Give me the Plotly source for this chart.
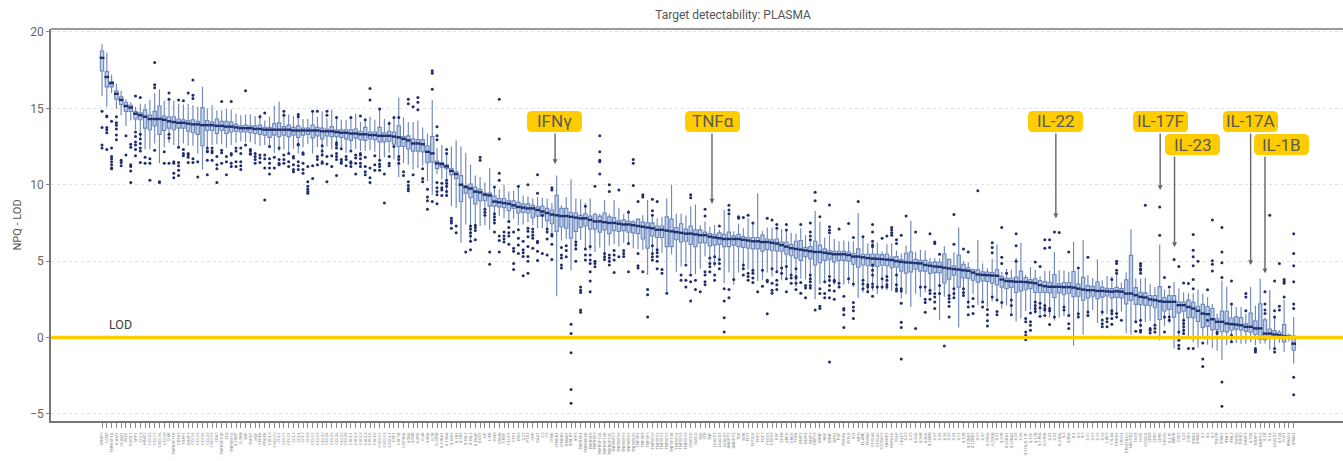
import plotly.graph_objects as go

targets = [
"MMP9","LCN2","TNFRSF1A","ICAM1","VCAM1","SELE","CHI3L1","SPP1","CCL5","MMP2",
"CCL22","CCL17","CXCL16","CCL18","IL6R","TNFRSF11B","CD163","TIMP1","MMP3","CCL14",
"CCL15","CCL16","CCL23","CXCL12","CD40","TNFRSF10B","LTA","TNFRSF14","IL18BP","IL1RN",
"MIF","TGFB1","HGF","VEGFA","PDGFB","CXCL9","CXCL10","CCL2","CCL19","CCL21",
"CCL3","CCL4","CCL7","CCL8","CCL11","CCL13","CCL20","CCL24","CCL25","CCL26",
"CCL27","CCL28","CXCL1","CXCL2","CXCL3","CXCL5","CXCL6","CXCL8","CXCL11","CXCL13",
"CX3CL1","CSF1","CSF1R","CSF2RA","IL2RA","IL2RB","IL2RG","IL4R","IL5RA","IL7R",
"IL10RB","IL13RA1","IL15RA","IL18R1","IL1R1","IL1R2","IL1RL1","IL1RL2","IL1RAP","IL6ST",
"LIF","LIFR","OSM","OSMR","CNTF","CLCF1","CTF1","EBI3","IL27","PTX3",
"CRP","SAA1","C3","C5","IFNG","IFNGR1","IFNGR2","IFNAR1","IFNLR1","IRF5",
"TNFRSF4","TNFRSF6B","TNFRSF8","TNFRSF9","TNFRSF12A","TNFRSF13B","TNFRSF13C","TNFRSF17","TNFRSF18","TNFRSF19",
"TNFRSF21","TNFRSF25","TNFSF4","TNFSF8","TNFSF9","TNFSF10","TNFSF11","TNFSF12","TNFSF13","TNFSF13B",
"TNFSF14","TNFSF15","TNFSF18","CD40LG","FASLG","FAS","LTB","TNF","LGALS1","LGALS3",
"LGALS9","ANGPT1","ANGPT2","TEK","KDR","FLT1","FLT3LG","FGF2","FGF7","FGF21",
"FGF23","EGF","EGFR","AREG","EREG","TGFA","BMP2","BMP4","BMP7","GDF15",
"GDNF","NGF","BDNF","NTF4","PGF","PDGFA","KITLG","KIT","MPO","ELANE",
"PRTN3","S100A8","S100A9","S100A12","HMGB1","HSPA1A","TSLP","CRLF2","IL33","IL25",
"IL36A","IL36B","IL36G","IL36RN","IL37","IL38","IL16","IL32","IL34","IL11",
"IL12B","IL12RB1","IL12RB2","IL19","IL20","IL20RA","IL20RB","IL21","IL21R","IL22RA1",
"IL22RA2","IL24","IL26","IL17A/IL17F","IL17C","IL17D","IL17RA","IL17RB","IL22","IL31",
"IL31RA","IL3","IL3RA","IL4","IL5","IL9","IL10","IL13","IL15","IL18",
"LAG3","CTLA4","PDCD1","CD274","PDCD1LG2","HAVCR2","TIGIT","ICOS","ICOSLG","CD28",
"CD80","CD86","CD276","IL17F","NPPB","CSF2","IL23","CSF3","IFNA1","IFNA2",
"IL2","IL6","IL7","TSLPR","IFNB1","IFNL1","IFNL2","TGFB2","TGFB3","MMP1",
"IL17A","MMP7","MMP12","IL1B","IL1A","LGALS7","IL12A","IL4I1","IFNA14","IFNW1",
]

medians = [
18.3,17.05,16.65,15.95,15.55,15.15,15.05,14.65,14.55,14.45,
14.3,14.3,14.3,14.25,14.15,14.1,14.05,14.05,14.0,13.95,
13.95,13.9,13.9,13.9,13.85,13.85,13.8,13.8,13.75,13.7,
13.7,13.7,13.65,13.65,13.6,13.6,13.6,13.6,13.6,13.6,
13.55,13.55,13.55,13.55,13.55,13.55,13.5,13.5,13.5,13.45,
13.4,13.4,13.35,13.35,13.3,13.3,13.25,13.25,13.2,13.2,
13.2,13.15,13.1,13.0,12.9,12.7,12.7,12.65,12.15,12.05,
11.4,11.35,11.2,10.9,10.7,10.0,9.85,9.75,9.55,9.5,
9.35,9.3,8.9,8.85,8.8,8.75,8.65,8.55,8.5,8.45,
8.45,8.35,8.25,8.15,8.05,8.0,7.95,7.95,7.9,7.85,
7.8,7.8,7.7,7.6,7.6,7.55,7.5,7.5,7.45,7.4,
7.4,7.35,7.3,7.25,7.2,7.15,7.05,7.05,7.0,6.95,
6.9,6.85,6.8,6.8,6.75,6.7,6.7,6.6,6.55,6.5,
6.45,6.45,6.45,6.45,6.4,6.35,6.3,6.3,6.25,6.25,
6.2,6.15,6.05,5.95,5.85,5.8,5.75,5.7,5.65,5.6,
5.6,5.55,5.5,5.45,5.45,5.45,5.4,5.3,5.3,5.25,
5.2,5.17,5.15,5.13,5.1,5.07,5.0,4.95,4.92,4.9,
4.87,4.85,4.75,4.7,4.65,4.63,4.57,4.52,4.48,4.45,
4.4,4.37,4.25,4.13,4.1,4.08,4.06,4.04,3.8,3.7,
3.68,3.65,3.65,3.63,3.6,3.55,3.43,3.36,3.32,3.32,
3.32,3.3,3.3,3.27,3.2,3.14,3.1,3.1,3.05,3.05,
3.02,3.0,3.03,3.0,2.88,2.88,2.77,2.66,2.62,2.5,
2.45,2.38,2.34,2.34,2.34,2.12,2.12,2.0,1.9,1.75,
1.57,1.53,1.2,1.03,1.03,.92,.88,.85,.8,.7,
.7,.6,.6,.26,.26,.2,.15,.1,.05,-.4,
]

box_above = [
.45,.35,.1,.2,.2,.25,.15,.15,.15,.45,
.25,.5,.85,.25,.3,.35,.25,.2,.2,.3,
.2,1.15,.3,.2,.45,.3,.35,.3,.2,.15,
.2,.15,.2,.25,.15,.15,.4,.45,.2,.3,
.2,.3,.15,.15,.35,.2,.2,.15,.3,.15,
.2,.2,.25,.3,.2,.45,.2,.2,.55,.2,
.3,.3,.75,.15,.3,.3,.25,.3,.4,1.1,
.15,.1,.1,.15,.15,.6,.1,.3,.3,.2,
.1,.15,.35,.25,.3,.2,.3,.3,.25,.3,
.2,.2,.35,.3,.3,1.3,.5,.5,.3,.3,
.2,.3,.25,.45,.35,.6,.4,.35,.2,.3,
.2,.2,.45,.3,.3,.35,.25,.25,.9,.8,
.3,.6,.3,.5,.3,.35,.2,.2,.2,.35,
.3,.45,.2,.3,.2,.2,.25,.25,.45,.2,
.2,.3,.2,.3,.25,.5,.6,.2,.3,.7,
.45,.25,.2,.2,.2,.2,.2,.2,.5,.2,
.25,.3,.3,.3,.35,.2,.3,.15,.6,.7,
.25,.2,.3,.2,.3,.3,.9,.6,.2,.95,
.4,.2,.2,.3,.2,.2,.2,.4,.2,.2,
.2,.3,.7,.3,.2,.3,.3,.3,.3,.8,
.2,.3,.3,1.05,.3,.8,.3,.25,.6,.25,
.2,.2,.25,.2,.9,2.5,.5,.3,.3,.25,
.3,.95,.3,.4,.4,.2,.2,.45,.4,.3,
.6,.5,.7,.2,.7,.8,.4,.5,.5,.2,
.9,.5,1.6,.9,.3,.25,.2,.75,.1,.5,
]

box_below = [
.85,.65,.25,.35,.3,.35,.25,.35,.3,.75,
.7,.45,1.0,.7,.45,.5,.35,.35,.5,.55,
.65,1.35,.35,.35,.5,.3,.45,.35,.25,.25,
.25,.3,.3,.35,.35,.5,.35,.45,.35,.45,
.3,.45,.3,.25,.5,.35,.5,.3,.35,.3,
.3,.4,.45,.3,.35,.4,.25,.3,.4,.4,
.35,.5,.6,.5,.55,.5,.5,.5,.7,.55,
.35,.2,.15,.25,.3,1.1,.4,.6,.8,.55,
.4,.7,.3,.3,.3,.45,.2,.4,.3,.3,
.6,.4,.3,.5,.6,1.05,.7,.8,1.4,.9,
.6,.5,.6,.5,.7,.5,.7,.5,.5,.4,
.5,.5,.5,.8,1.35,.5,.5,.5,1.05,1.0,
.5,.6,.5,.7,.8,.5,.5,.6,.5,.4,
.5,.5,.4,.5,.5,.5,.5,.5,.6,.5,
.5,.5,.4,.5,.5,.6,.7,.4,.5,.85,
.7,.5,.4,.5,.4,.4,.4,.5,.7,.5,
.5,.5,.5,.4,.4,.5,.4,.6,.7,.6,
.4,.5,.4,.5,.4,.4,1.0,.7,.4,1.15,
.5,.5,.5,.5,.4,.4,.5,.6,.5,.5,
.4,.7,.6,.5,.4,.6,.5,.4,.4,.7,
.4,.5,.4,.6,.5,.7,.5,.4,.5,.4,
.3,.4,.4,.4,.68,.45,.6,.5,.5,.4,
.5,1.2,.6,.5,1.0,.5,.4,.7,.6,.7,
.9,.8,.7,.5,.65,.55,.4,.3,.3,.3,
.35,.4,.7,.4,.3,.2,.15,.38,.1,.43,
]

whisker_above = [
.9,1.6,.55,.65,.6,.45,.35,.45,.75,.85,
1.25,1.7,1.95,1.25,1.4,1.4,1.25,1.2,1.3,1.25,
1.15,2.5,1.1,1.3,1.0,1.0,1.15,1.1,.9,.85,
.9,.9,.85,.95,.6,.85,1.55,1.85,1.1,1.0,
.95,1.1,.75,.75,1.2,.9,1.3,.85,1.4,1.05,
.85,.85,1.0,1.3,.8,1.0,1.2,1.0,1.85,1.1,
.95,1.3,2.6,1.4,1.2,1.4,1.5,1.1,1.2,3.5,
.98,1.25,.8,1.6,2.2,2.5,2.25,1.55,1.05,1.0,
.8,1.8,.9,.85,1.2,.8,.95,1.3,.8,.8,
.65,.85,.9,.95,.75,2.6,.7,1.25,2.45,1.25,
1.25,1.0,1.4,.6,.5,1.45,.6,1.5,1.05,.7,
.95,.35,.5,.75,1.8,.75,.75,.85,2.1,3.05,
1.2,1.25,1.2,1.8,1.95,.65,.9,.65,.8,.55,
1.9,1.55,.5,1.0,.75,1.45,1.2,3.15,.7,.95,
1.0,.9,1.05,1.1,1.0,1.0,1.4,1.0,.8,2.7,
2.0,1.0,1.2,1.0,.85,.9,.9,1.0,2.85,1.25,
.95,1.0,1.05,.5,1.0,1.1,.7,.55,1.1,2.75,
.75,.9,.95,.5,.55,.55,1.4,.55,1.1,2.75,
.6,.55,.25,2.25,.75,.45,1.1,2.05,.5,.8,
.75,1.55,2.55,.5,1.0,.9,.6,1.0,1.05,2.3,
1.1,1.1,1.0,3.0,1.2,3.25,1.0,.8,2.05,.7,
1.0,1.0,1.1,.6,1.4,4.2,1.1,1.2,1.3,1.0,
.85,3.7,.8,.8,1.3,1.1,.85,.9,1.0,1.4,
1.3,1.1,1.0,.55,2.7,2.4,1.3,1.15,1.2,.85,
2.6,1.5,3.25,1.05,2.85,1.15,.35,2.35,.2,1.75,
]

whisker_below = [
2.5,1.95,.65,1.0,1.0,1.3,.85,1.05,1.6,2.15,
2.0,1.6,2.9,1.8,1.4,1.5,1.6,1.35,1.45,1.4,
1.9,2.9,1.5,1.3,1.2,1.2,1.4,1.2,1.0,.85,
.9,.9,1.0,1.1,1.0,1.2,1.5,1.4,1.3,1.5,
1.2,1.5,1.1,.9,1.5,1.1,1.6,1.0,1.2,1.1,
1.1,1.3,1.2,1.0,1.1,1.1,1.0,1.1,1.5,1.4,
1.1,1.5,2.6,1.6,1.6,1.7,1.6,1.4,1.9,2.7,
.7,1.0,1.9,2.3,2.2,3.8,2.45,3.35,2.2,2.2,
2.0,2.25,1.2,.9,1.0,1.2,.9,1.2,1.1,.9,
1.1,1.2,1.1,1.2,1.3,5.3,1.6,1.5,3.5,2.0,
1.4,2.0,2.0,2.0,1.7,2.3,1.5,1.4,1.5,1.2,
1.3,1.5,1.5,1.5,3.1,1.6,1.5,1.5,4.0,1.5,
2.6,2.2,1.9,2.6,2.6,2.2,1.4,1.8,1.9,1.5,
2.9,2.2,3.0,2.2,2.0,1.9,2.2,2.6,2.5,2.0,
2.2,1.9,2.3,2.0,1.8,2.5,1.9,1.9,2.1,3.1,
2.1,2.0,1.9,2.0,2.1,2.0,1.9,2.0,2.7,2.3,
2.2,2.1,2.3,2.0,2.0,2.0,1.9,2.4,2.1,2.9,
2.0,2.2,1.8,1.8,1.6,3.5,1.9,1.7,1.8,3.8,
1.6,2.2,1.4,2.0,1.8,2.1,1.7,1.5,1.9,1.6,
2.1,2.6,2.4,1.9,1.8,2.0,1.9,1.8,2.0,2.2,
2.0,1.9,1.9,3.8,1.8,2.95,1.7,1.3,2.1,1.6,
1.5,1.6,1.4,1.3,2.6,2.7,1.8,2.0,1.6,1.4,
1.6,2.55,1.6,1.4,3.05,2.1,1.9,1.9,2.2,2.4,
1.5,2.0,1.9,1.9,2.5,1.4,1.2,1.2,1.2,1.1,
1.0,1.1,1.0,.65,1.05,.8,.5,1.05,.3,1.3,
]

outliers = {
0:[14.8,13.75,12.6,12.4],1:[14.5,14.45,13.75,13.6,13.4,12.3],2:[14.15,12.4,11.85,11.7,11.5,11.3,11.1,11.05],
3:[14.45,14.05,13.9,13.65,13.25,12.95],4:[11.6,11.45,11.25],5:[13.2,11.95],6:[12.65,12.45,11.3,11.2,10.9,10.15],
7:[15.8,13.45,13.15,12.8,12.6,12.3,11.9],8:[15.7,13.3,13.0,12.7,12.4,12.2,11.45],9:[11.8,11.4],
10:[11.7,11.4,10.3],11:[18.0,16.55,16.35,12.25],12:[10.2,10.15],13:[12.15,11.4],14:[16.0,15.6,13.3,13.05,11.4],
15:[11.4,11.5,10.75,10.45],16:[15.55,12.45,11.45,11.25,10.95,10.6],17:[15.5,12.3,12.05,11.9],18:[16.0,12.05,11.95,11.8,11.45],
19:[16.85,15.85,15.65,11.7,11.45],20:[11.5,10.5],22:[12.4,12.2,12.15,11.6,10.65],
23:[12.4,12.2,12.1,11.6],24:[11.85,11.3,11.05,10.15],25:[15.45,12.25,12.1,11.4],26:[11.85,11.5,10.65],
27:[15.45,12.05,11.95,11.4,11.2],28:[12.4,12.2,11.5,11.2],29:[12.4,12.05,11.5,11.25,11.0],30:[16.15,12.6],
31:[12.3,12.2,12.05,12.0],32:[12.05,11.85,11.65,11.4],33:[14.45,11.95,11.75,11.45],34:[14.7,11.95,11.7,11.1,9.0],
35:[12.5,11.7,11.4,11.1,10.7],36:[11.8,11.1],37:[12.4,11.65,11.4,11.3],38:[14.8,14.55,11.95,11.65,11.4],39:[12.05,11.5,11.2],
40:[11.85,11.75,11.3,11.0,10.85],41:[14.6,14.45,12.65,12.6,11.5,11.25,11.0],42:[12.1,12.0,11.4,11.0,10.75],
43:[11.2,10.2,9.9,9.7,9.55,9.45],44:[14.8,11.25,10.4],45:[14.8,11.85,11.65,11.3],46:[12.55,12.2,11.95,11.5,11.4],
47:[14.8,14.55,11.85,11.35,10.2],48:[11.9,11.2],49:[14.4,12.75,12.6,12.4,12.05,11.85,11.65,10.6],
50:[12.35,11.65,11.5,11.4],51:[11.85,11.65,11.25],52:[14.4,12.2,11.5,11.4,11.2],53:[11.95,11.75,11.4,10.7],
54:[14.5,12.05,11.95,11.7,11.4,11.2],55:[14.25,11.8,11.2,10.85,10.65],56:[16.3,15.55,11.1,10.45,10.15],57:[11.9,11.3,10.95],
58:[14.95,11.6,11.35,11.2,10.95],59:[10.7,8.8],60:[14.0,11.85,11.4,11.25],61:[14.4,12.5],62:[14.4,11.85,11.65,11.4],
63:[10.85,10.6],64:[15.6,15.3,10.2,9.95,9.75,9.6],65:[15.1,10.65],66:[15.7,15.4,14.9],67:[11.05,10.4,10.2],
68:[9.7,9.2,8.95,8.4],69:[17.45,17.3,16.25,8.9],70:[13.8,13.2,12.95,10.15,9.8,9.55,9.35,8.75],
71:[10.1,9.8,9.65,9.3],72:[12.3,12.05,10.3,10.1,9.9,9.55,9.3],73:[7.8,7.65,7.5,7.15],74:[7.3,6.85],
76:[5.6],77:[7.3,7.1,6.85,6.65,6.3,5.75],78:[7.35,7.2,7.0,6.4],79:[11.8,11.6],80:[8.4,8.2,8.0],81:[5.6,4.8],
82:[9.85,8.1,7.9,7.7,7.5,6.9],83:[15.6,13.0,10.75,10.3,6.65,6.35,5.6],84:[6.9,6.65,6.45,6.25],85:[7.6,7.2,6.85,6.65,6.1],
86:[6.9,5.85,5.65,4.85,4.45],87:[9.9,7.05,6.5,6.05,5.5],88:[6.3,5.75,5.55,5.3,4.05],
89:[10.0,7.15,6.95,6.6,5.95,5.3,5.0,4.2],90:[7.1,6.9,6.7,6.5,5.85],91:[10.65,9.45,6.3,6.2,5.65,5.05],92:[8.0,5.5],
93:[7.1,6.9,6.45,5.4],94:[9.8,9.65,6.75,6.65,6.1,5.1],96:[5.9,5.4,5.2,4.75,4.55],97:[6.0,5.7,5.28],
98:[.87,.26,-1.0,-3.4,-4.3],99:[6.25,6.05,5.8,5.0],100:[3.3,3.1,2.95,1.8,1.65],101:[8.6,5.8,5.4,5.07],
102:[5.95,5.4,5.07,4.85,4.3,3.7,3.0],103:[9.9,5.0,4.85,4.63],104:[13.2,12.15,11.6,11.5,10.7],105:[5.5,5.28,5.1],
106:[10.0,9.55,5.4,5.2,5.0,4.75],107:[5.7,5.4,5.07,4.25],108:[9.65,5.28],109:[5.7,5.5,5.3],110:[8.2,6.15,4.3],
111:[11.65,11.4,9.95],112:[8.9,5.5,4.7,4.55],113:[9.35,9.2,4.3],114:[3.15,2.8,1.35],115:[9.05,8.3,8.0,6.0,5.5,5.28,5.07],
116:[8.9,5.75,5.55,5.3,5.0,4.5],117:[4.45,4.2],118:[2.9],121:[4.1,3.75],122:[4.75,3.75,3.3],123:[9.35,9.15,4.1,3.65,2.4],
124:[3.75,3.15],125:[3.0],126:[8.4,7.95,4.3,4.1,3.65,3.45],127:[5.2,4.85,4.63,4.3],128:[5.28,4.85,4.1,3.75],
129:[7.3,5.1,4.85,4.5],130:[3.2,2.4,1.3,.37],131:[8.65,8.35,8.1,3.15,2.6],132:[3.8],133:[7.9,7.8],
134:[7.85,4.75,4.5,4.1],135:[8.0,4.2,4.0,3.75],136:[7.5,4.4,4.2,3.9,3.6],137:[3.0],138:[4.4,3.35],139:[7.8,3.75,3.65,1.55],
140:[7.7,4.5,3.55,3.1,2.9],141:[7.4,7.15,4.3,3.75,3.45,3.15],142:[4.55,4.2],143:[7.4,7.03,4.65,3.85,3.0],
144:[4.1,3.9,3.55],145:[4.5,4.0,3.9,3.55,3.15],146:[7.4,3.6,2.9],147:[3.4,3.25,2.6],
148:[7.5,6.9,6.65,6.4,4.1,3.85,3.65,3.4,3.25],149:[9.5,8.95,1.8],150:[7.9,3.2,2.88,2.05,1.9],151:[3.65,2.88,2.6],
152:[8.67,7.25,7.03,6.85,4.0,3.75,3.4,3.1,2.6,-1.6],153:[3.75,3.65,3.05,2.5],154:[7.1,3.55,3.3],155:[2.7,1.9,1.8,1.5,.65],
156:[7.47,3.85],157:[6.55,3.5,2.3,2.0,1.75,1.25],158:[8.9],159:[6.6,3.75,3.5,3.2],160:[3.45,3.3,3.0],
161:[7.4,6.9,6.3,6.05,5.95,4.75,4.4,4.1,3.5,3.3,2.7],162:[3.3],163:[6.5,3.85,3.3],164:[6.65,4.0,3.75,3.45,3.3],
165:[7.2,7.03,6.85,6.7],166:[6.4,6.15,4.1,3.45,3.2,3.05],167:[6.7,3.2,3.05,2.25,1.0,.65,-1.4],168:[7.95],
170:[6.9,.6],171:[3.3],172:[3.3,2.5,2.3,1.65],173:[6.8,3.1,2.88,2.5],174:[6.25,6.15,2.88,2.66,2.33,1.9],
175:[5.45,3.4,2.88],176:[-.55],177:[2.75,2.55,2.33,2.05,1.35],178:[8.05,6.1,3.2,2.88,2.6],
180:[5.8,3.2,2.95,2.75],181:[5.6,2.33,2.0,1.5],182:[2.55,2.05,1.57],183:[9.6],184:[2.33,2.0],185:[1.83,1.5,1.1,.75],
186:[6.2,5.9,5.55,2.66],187:[2.45,1.7,1.5],188:[7.2,5.25,4.85,2.3],189:[4.2],190:[2.45,2.1,1.5],191:[6.8,6.0,5.0],
193:[1.25,1.03,.37,.15,-.15],194:[1.6,1.03,.8,.48],195:[4.95,2.33,2.1,1.9,1.7],196:[4.65,2.25,1.95,1.4],
197:[6.4,5.85,2.1,1.9,1.8,1.45],198:[6.4,5.9,.85,1.9,1.75],199:[6.9,1.35],200:[6.87],201:[2.0,1.8],202:[5.6,1.45,.9,.6],
204:[4.55,1.55,1.35],206:[5.25,1.68,1.45],209:[1.68,1.15,.9,.7],210:[1.25,1.03,.7],211:[3.8,1.75,1.57,1.25,.87],
212:[5.0,4.85,4.4,4.2,1.57,1.35],213:[1.14],216:[1.03,.41],217:[4.85,4.7,4.5,4.4,4.2,1.14,.8,.48,.37],218:[8.65],
219:[.6,.48,.3],220:[.8,.6,.37],221:[8.55,6.7],222:[3.93,1.35,.37],223:[3.3,1.35,1.14],224:[5.1],225:[4.65,.37,-.17,-.5,-.72],
226:[3.57,1.14,.92,.7,.48,.26],227:[3.54,-.72],228:[6.75,5.72,5.28,4.7,3.8,3.2,-.72],229:[5.0],230:[-.35,-1.4,-1.9],
231:[3.13,1.14],232:[7.7,5.02,4.8,4.35],233:[.37,.26],234:[7.2,5.6,4.9,3.93,-2.9,-4.5],236:[3.7,2.2,.15,-.28],
239:[2.88,2.66,1.75],241:[-.72,-.83,-.94],243:[3.0,2.2,1.8,1.57],244:[8.0],245:[3.7,1.75,1.35,-.72,-.94],
246:[4.85,2.05,1.8],247:[3.8,3.67,3.56,2.66],249:[6.8,5.5,4.7,3.65,2.2,1.9,-2.6,-3.75],
}

callout_labels = ["IFNγ","TNFα","IL-22","IL-17F","IL-23","IL-17A","IL-1B"]
callout_target = [94.67,127.45,199.3,221.1,224.1,240.0,243.0]
callout_tip = [11.35,8.76,7.8,9.65,5.92,4.74,4.2]
callout_box_px = [(527,582,111,132),(685,740,111,132),(1028,1083,111,132),(1133,1188,111,132),
                  (1165,1220,134,155),(1223,1278,111,132),(1254,1309,134,155)]

WIDTH, HEIGHT = 1343, 461
ML, MR, MT, MB = 51, 0, 29, 40
PW, PH = WIDTH - ML - MR, HEIGHT - MT - MB
FONT = "Roboto, Arial, sans-serif"

xs = list(range(len(medians)))
q3 = [m + a for m, a in zip(medians, box_above)]
q1 = [m - b for m, b in zip(medians, box_below)]
hi = [max(m + a, q) for m, a, q in zip(medians, whisker_above, q3)]
lo = [min(m - b, q) for m, b, q in zip(medians, whisker_below, q1)]

fig = go.Figure()
fig.add_trace(go.Box(
    x=xs, q1=q1, median=medians, q3=q3, lowerfence=lo, upperfence=hi,
    width=0.68, whiskerwidth=0, boxpoints=False,
    line=dict(color="#7088bb", width=1.15), fillcolor="#bcd3ea",
    showlegend=False, hoverinfo="skip",
))
fig.add_trace(go.Scatter(
    x=xs, y=medians, mode="markers", showlegend=False, hoverinfo="skip",
    marker=dict(symbol="line-ew", size=3.4, line=dict(color="#1f2f6f", width=2.4)),
))
ox = [k for k, v in outliers.items() for _ in v]
oy = [y for v in outliers.values() for y in v]
fig.add_trace(go.Scatter(
    x=ox, y=oy, mode="markers", showlegend=False, hoverinfo="skip",
    marker=dict(symbol="circle", size=3.0, color="#1f2d6b"),
))


def rounded(x0, x1, y0, y1, r=5):
    px = lambda v: (v - ML) / PW
    py = lambda v: (HEIGHT - MB - v) / PH
    return (f"M{px(x0 + r)},{py(y0)} L{px(x1 - r)},{py(y0)} Q{px(x1)},{py(y0)} {px(x1)},{py(y0 + r)} "
            f"L{px(x1)},{py(y1 - r)} Q{px(x1)},{py(y1)} {px(x1 - r)},{py(y1)} L{px(x0 + r)},{py(y1)} "
            f"Q{px(x0)},{py(y1)} {px(x0)},{py(y1 - r)} L{px(x0)},{py(y0 + r)} Q{px(x0)},{py(y0)} {px(x0 + r)},{py(y0)} Z")


shapes = [
    dict(type="line", xref="paper", yref="y", x0=0, x1=1, y0=0, y1=0,
         line=dict(color="#FFCC00", width=3.5), layer="above"),
    dict(type="line", xref="paper", yref="paper", x0=0, x1=1, y0=1, y1=1,
         line=dict(color="#777777", width=1.5), layer="above"),
]
annotations = [
    dict(text="LOD", xref="x", yref="y", x=3.8, y=0.85, showarrow=False,
         font=dict(family=FONT, size=12.5, color="#3c3c3c")),
]
for lab, tx, tip, (x0, x1, y0, y1) in zip(callout_labels, callout_target, callout_tip, callout_box_px):
    shapes.append(dict(type="path", xref="paper", yref="paper", path=rounded(x0, x1, y0, y1),
                       fillcolor="#FFCC00", line=dict(width=0), layer="above"))
    annotations.append(dict(
        text="", xref="x", yref="y", x=tx, y=tip, axref="x", ayref="y", ax=tx,
        ay=(337.5 - y1) / 15.28,
        showarrow=True, arrowhead=2, arrowsize=0.7, arrowwidth=1.4, arrowcolor="#666666",
    ))
    annotations.append(dict(
        text=lab, xref="paper", yref="paper", x=((x0 + x1) / 2 - ML) / PW,
        y=(HEIGHT - MB - (y0 + y1) / 2) / PH, xanchor="center", yanchor="middle", showarrow=False,
        font=dict(family=FONT, size=17, color="#5a5a5a"),
    ))

fig.update_layout(
    width=WIDTH, height=HEIGHT,
    margin=dict(l=ML, r=MR, t=MT, b=MB, autoexpand=False),
    paper_bgcolor="white", plot_bgcolor="white", showlegend=False,
    title=dict(text="Target detectability: PLASMA", x=733 / WIDTH, xanchor="center", xref="container",
               y=1 - 15 / HEIGHT, yanchor="middle", font=dict(family=FONT, size=12, color="#555555")),
    shapes=shapes, annotations=annotations,
    xaxis=dict(range=[-10.66, 259.3], tickmode="array", tickvals=xs, ticktext=targets,
               tickangle=-90, tickfont=dict(family=FONT, size=4.2, color="#888888"),
               ticks="outside", ticklen=5, tickwidth=0.8, tickcolor="#888888", ticklabelstandoff=3,
               showgrid=False, zeroline=False, showline=True, linecolor="#777777", linewidth=1.5),
    yaxis=dict(range=[-5.46, 20.19], tickmode="array", tickvals=[-5, 0, 5, 10, 15, 20],
               tickfont=dict(family=FONT, size=12, color="#666666"),
               ticks="outside", ticklen=3, tickwidth=1, tickcolor="#888888",
               title=dict(text="NPQ - LOD", font=dict(family=FONT, size=11, color="#555555"), standoff=6),
               showgrid=True, gridcolor="#e2e2e2", griddash="dot", gridwidth=1,
               zeroline=False, showline=True, linecolor="#777777", linewidth=1.5),
)

fig.write_html("out.html", config={"displayModeBar": False},
               post_script="document.body.style.margin='0';document.documentElement.style.overflow='hidden';")
